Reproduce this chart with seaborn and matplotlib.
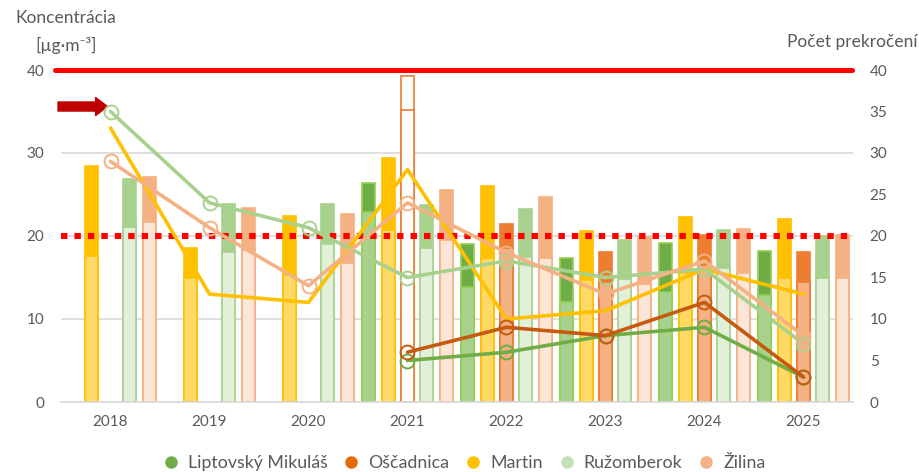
import numpy as np
import pandas as pd
import matplotlib
matplotlib.use("Agg")
import matplotlib.pyplot as plt
from matplotlib.lines import Line2D
import seaborn as sns

nan = np.nan

years = ["2018", "2019", "2020", "2021", "2022", "2023", "2024", "2025"]
bar_order = ["Liptovský Mikuláš", "Martin", "Oščadnica", "Ružomberok", "Žilina"]
legend_order = ["Liptovský Mikuláš", "Oščadnica", "Martin", "Ružomberok", "Žilina"]

# concentration - taller bars
lm_outer = [nan, nan, nan, 26.4, 19.0, 17.3, 19.1, 18.2]
martin_outer = [28.4, 18.6, 22.4, 29.4, 26.0, 20.6, 22.3, 22.1]
osc_outer = [nan, nan, nan, 39.3, 21.5, 18.1, 20.1, 18.1]
ruz_outer = [26.9, 23.8, 23.8, 23.7, 23.2, 19.5, 20.7, 20.0]
zil_outer = [27.1, 23.4, 22.7, 25.6, 24.7, 19.9, 20.9, 20.1]

# concentration - lighter inner bars
lm_inner = [nan, nan, nan, 22.9, 13.8, 12.0, 13.3, 12.9]
martin_inner = [17.6, 15.0, 15.3, 20.7, 17.4, 14.7, 15.5, 14.9]
osc_inner = [nan, nan, nan, 35.2, 18.5, 14.5, 16.5, 14.4]
ruz_inner = [21.1, 18.1, 19.0, 18.6, 17.5, 14.8, 16.1, 15.0]
zil_inner = [21.7, 18.3, 16.7, 19.5, 17.4, 14.2, 15.6, 15.0]

# number of exceedances (right axis)
lm_count = [nan, nan, nan, 5, 6, 8, 9, 3]
osc_count = [nan, nan, nan, 6, 9, 8, 12, 3]
martin_count = [33, 13, 12, 28, 10, 11, 16, 13]
ruz_count = [35, 24, 21, 15, 17, 15, 16, 7]
zil_count = [29, 21, 14, 24, 18, 13, 17, 8]

# incomplete year drawn hollow
hollow = [("Oščadnica", "2021")]

limit_year = 40
limit_days = 20
arrow_value = 35.6

outer = {"Liptovský Mikuláš": lm_outer, "Martin": martin_outer, "Oščadnica": osc_outer,
         "Ružomberok": ruz_outer, "Žilina": zil_outer}
inner = {"Liptovský Mikuláš": lm_inner, "Martin": martin_inner, "Oščadnica": osc_inner,
         "Ružomberok": ruz_inner, "Žilina": zil_inner}
counts = {"Liptovský Mikuláš": lm_count, "Oščadnica": osc_count, "Martin": martin_count,
          "Ružomberok": ruz_count, "Žilina": zil_count}

# style per station: outer fill, outer edge, inner fill, inner edge, line, legend dot, markers
styles = {
    "Liptovský Mikuláš": ("#70AD47", "#92D050", "#A9D18E", "#92D050", "#70AD47", "#70AD47", True),
    "Oščadnica": ("#ED7D31", "#ED7D31", "#F4B183", "#ED7D31", "#C55A11", "#E36C09", True),
    "Martin": ("#FFC000", "#FFC000", "#FFD966", "#FFC000", "#FFC000", "#FFC000", False),
    "Ružomberok": ("#A9D18E", "#A9D18E", "#E2F0D9", "#A9D18E", "#A9D18E", "#C5E0B4", True),
    "Žilina": ("#F4B183", "#F4B183", "#FBE5D6", "#F4B183", "#F4B183", "#F4B183", True),
}

GREY = "#595959"
GRID = "#D9D9D9"


def long_form(values):
    rows = []
    for st in bar_order:
        for yr, v in zip(years, values[st]):
            if not np.isnan(v):
                rows.append({"year": yr, "station": st, "value": v})
    return pd.DataFrame(rows)


def main():
    sns.set_theme(style="white")
    plt.rcParams["font.family"] = ["Lato", "DejaVu Sans"]

    fig = plt.figure(figsize=(9.2, 4.72), dpi=100)
    ax = fig.add_axes([61 / 920, 1 - 402 / 472, 792 / 920, 332 / 472])

    group_w = 0.975
    slot_w = group_w / len(bar_order)
    for layer, vals, z in (("outer", outer, 2), ("inner", inner, 2.5)):
        n0 = len(ax.patches)
        sns.barplot(data=long_form(vals), x="year", y="value", hue="station",
                    order=years, hue_order=bar_order, width=group_w, gap=0.33,
                    errorbar=None, legend=False, ax=ax)
        for p in ax.patches[n0:]:
            xc = p.get_x() + p.get_width() / 2
            g = int(round(xc))
            s = int(round((xc - g) / slot_w)) + 2
            st, yr = bar_order[s], years[g]
            of, oe, inf, ie = styles[st][:4]
            if layer == "outer":
                p.set_facecolor(of)
                p.set_edgecolor(oe)
            else:
                p.set_facecolor(inf)
                p.set_edgecolor(ie)
            p.set_linewidth(1.2)
            if (st, yr) in hollow:
                p.set_facecolor("white")
                p.set_edgecolor("#ED7D31")
            p.set_zorder(z)

    ax.set_xlabel("")
    ax.set_ylabel("")
    ax.set_xlim(-0.5, len(years) - 0.5)
    ax.set_ylim(0, 40)
    ax.set_yticks([0, 10, 20, 30, 40])
    ax.yaxis.grid(True, color=GRID, lw=1.2)
    ax.set_axisbelow(True)
    for side in ("left", "right", "top"):
        ax.spines[side].set_visible(False)
    ax.spines["bottom"].set_color(GRID)
    ax.spines["bottom"].set_linewidth(1.2)
    ax.tick_params(axis="y", length=0, pad=12, labelsize=11, labelcolor=GREY)
    ax.tick_params(axis="x", which="major", length=0, pad=9, labelsize=11, labelcolor=GREY)
    ax.set_xticks(np.arange(-0.5, len(years)), minor=True)
    ax.tick_params(axis="x", which="minor", length=5, width=1.2, color=GRID)

    # limit lines
    ax.axhline(limit_year, xmin=-0.007, xmax=0.999, color="#FF0000", lw=3.6,
               clip_on=False, zorder=4)
    ax.axhline(limit_days, color="#FF0000", lw=4.4, linestyle=(0, (1.05, 1.15)),
               dash_capstyle="butt", zorder=4)

    ax.annotate("", xy=(-0.03, arrow_value), xytext=(-0.53, arrow_value),
                arrowprops=dict(arrowstyle="simple,head_length=0.86,head_width=1.3,tail_width=0.65",
                                mutation_scale=10, color="#C00000", shrinkA=0, shrinkB=0),
                annotation_clip=False, zorder=5)

    # exceedance counts on right axis
    ax2 = ax.twinx()
    pos = np.arange(len(years))
    for st in ["Martin", "Ružomberok", "Žilina", "Liptovský Mikuláš", "Oščadnica"]:
        c = styles[st][4]
        kw = dict(marker="o", markersize=10, markerfacecolor="none",
                  markeredgecolor=c, markeredgewidth=1.4) if styles[st][6] else dict(marker=None)
        sns.lineplot(x=pos, y=np.array(counts[st], dtype=float), ax=ax2, color=c, lw=2.6, **kw)
    ax2.set_ylim(0, 40)
    ax2.set_yticks(range(0, 45, 5))
    ax2.set_ylabel("")
    ax2.grid(False)
    for side in ("left", "right", "top", "bottom"):
        ax2.spines[side].set_visible(False)
    ax2.tick_params(axis="y", length=0, pad=12, labelsize=11, labelcolor=GREY)

    fig.text(66 / 920, 1 - 18 / 472, "Koncentrácia", ha="center", va="center",
             fontsize=12.5, color=GREY)
    fig.text(66 / 920, 1 - 45 / 472, "[µg·m⁻³]", ha="center", va="center",
             fontsize=12.5, color=GREY)
    fig.text(918 / 920, 1 - 42 / 472, "Počet prekročení", ha="right", va="center",
             fontsize=12.5, color=GREY)

    handles = [Line2D([], [], marker="o", linestyle="", markersize=8,
                      markerfacecolor=styles[st][5], markeredgecolor=styles[st][5])
               for st in legend_order]
    fig.legend(handles, legend_order, loc="center", bbox_to_anchor=(464 / 920, 1 - 463 / 472),
               ncol=5, frameon=False, fontsize=12.8, labelcolor=GREY,
               handlelength=0.9, handletextpad=0.5, columnspacing=0.9)

    fig.savefig("out.png", dpi=100)


if __name__ == "__main__":
    main()
